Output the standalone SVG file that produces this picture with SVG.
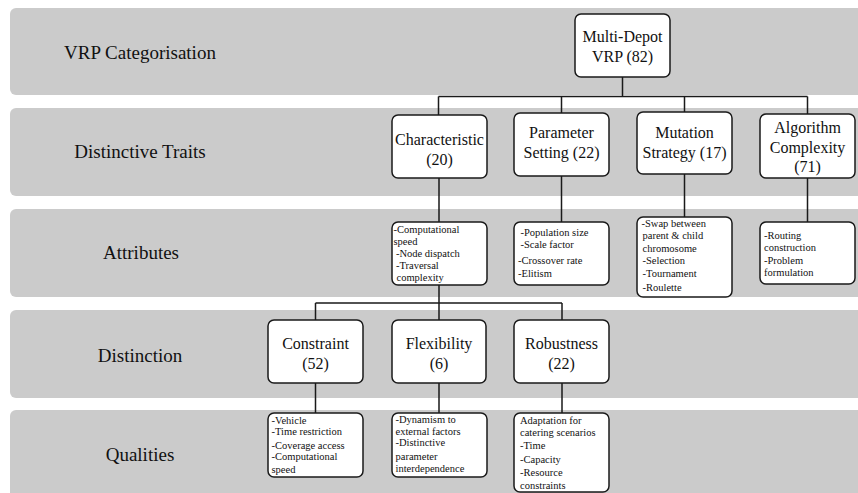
<svg xmlns="http://www.w3.org/2000/svg" width="858" height="493" viewBox="0 0 858 493">
<style>
.band{fill:#cbcbcb}
.lbl{font-family:"Liberation Serif","Times New Roman",serif;font-size:19px;fill:#111;text-anchor:middle}
.box{fill:#fff;stroke:#1a1a1a;stroke-width:1.5}
.t{font-family:"Liberation Serif","Times New Roman",serif;font-size:16px;fill:#111;text-anchor:middle}
.s{font-family:"Liberation Serif","Times New Roman",serif;font-size:10.5px;fill:#111}
.c{fill:none;stroke:#1a1a1a;stroke-width:1.5}
</style>
<rect width="858" height="493" fill="#fff"/>
<g id="bands">
<rect class="band" x="10" y="8" width="870" height="87" rx="6"/>
<rect class="band" x="10" y="108" width="870" height="88" rx="6"/>
<rect class="band" x="10" y="209" width="870" height="88" rx="6"/>
<rect class="band" x="10" y="310" width="870" height="88" rx="6"/>
<rect class="band" x="10" y="410" width="870" height="95" rx="6"/>
<text class="lbl" x="140" y="59" font-size="18">VRP Categorisation</text>
<text class="lbl" x="140" y="158">Distinctive Traits</text>
<text class="lbl" x="141" y="259">Attributes</text>
<text class="lbl" x="140" y="362">Distinction</text>
<text class="lbl" x="140" y="461">Qualities</text>
</g>
<g id="connectors">
<path class="c" d="M622.5 77V96.5M438.5 96.5H807.5M438.5 96.5V115M561.5 96.5V113M684.5 96.5V112M807.5 96.5V114"/>
<path class="c" d="M439 178V222M561.5 176V222M684.5 174V217M807.5 178V222"/>
<path class="c" d="M439 285V320M315.5 303H562M315.5 303V320M562 303V320"/>
<path class="c" d="M315.5 383V413M439 383V413M562 383V413"/>
</g>
<g id="root">
<rect class="box" x="575" y="14" width="95" height="63" rx="6"/>
<text class="t" x="622.5" y="42">Multi-Depot</text>
<text class="t" x="622.5" y="62">VRP (82)</text>
</g>
<g id="characteristic">
<rect class="box" x="392" y="115" width="95" height="63" rx="6"/>
<text class="t" x="439.5" y="145">Characteristic</text>
<text class="t" x="439.5" y="165">(20)</text>
</g>
<g id="parameter">
<rect class="box" x="514" y="113" width="95" height="63" rx="6"/>
<text class="t" x="561.5" y="138">Parameter</text>
<text class="t" x="561.5" y="158">Setting (22)</text>
</g>
<g id="mutation">
<rect class="box" x="637" y="112" width="95" height="62" rx="6"/>
<text class="t" x="684.5" y="138">Mutation</text>
<text class="t" x="684.5" y="158">Strategy (17)</text>
</g>
<g id="algorithm">
<rect class="box" x="760" y="114" width="95" height="64" rx="6"/>
<text class="t" x="807.5" y="133">Algorithm</text>
<text class="t" x="807.5" y="153">Complexity</text>
<text class="t" x="807.5" y="172">(71)</text>
</g>
<g id="char-attr">
<rect class="box" x="392" y="222" width="95" height="63" rx="6"/>
<text class="s" x="393.5" y="232.5">-Computational</text>
<text class="s" x="393.5" y="244.5">speed</text>
<text class="s" x="396" y="256.5">-Node dispatch</text>
<text class="s" x="396" y="268.5">-Traversal</text>
<text class="s" x="396.5" y="281">complexity</text>
</g>
<g id="param-attr">
<rect class="box" x="514" y="222" width="95" height="63" rx="6"/>
<text class="s" x="520.5" y="235.5">-Population size</text>
<text class="s" x="520.5" y="248">-Scale factor</text>
<text class="s" x="518" y="264">-Crossover rate</text>
<text class="s" x="518" y="276.5">-Elitism</text>
</g>
<g id="mutation-attr">
<rect class="box" x="637" y="217" width="95" height="80" rx="6"/>
<text class="s" x="641.5" y="226.5">-Swap between</text>
<text class="s" x="642.5" y="239">parent &amp; child</text>
<text class="s" x="642.5" y="252">chromosome</text>
<text class="s" x="642.5" y="264">-Selection</text>
<text class="s" x="642.5" y="276.5">-Tournament</text>
<text class="s" x="642.5" y="290.5">-Roulette</text>
</g>
<g id="algorithm-attr">
<rect class="box" x="760" y="222" width="95" height="62" rx="6"/>
<text class="s" x="764" y="238.5">-Routing</text>
<text class="s" x="764" y="251">construction</text>
<text class="s" x="764" y="263.5">-Problem</text>
<text class="s" x="764" y="276">formulation</text>
</g>
<g id="constraint">
<rect class="box" x="268" y="320" width="95" height="63" rx="6"/>
<text class="t" x="315.5" y="348.5">Constraint</text>
<text class="t" x="315.5" y="368.5">(52)</text>
</g>
<g id="flexibility">
<rect class="box" x="392" y="320" width="94" height="63" rx="6"/>
<text class="t" x="439" y="348.5">Flexibility</text>
<text class="t" x="439" y="368.5">(6)</text>
</g>
<g id="robustness">
<rect class="box" x="514" y="320" width="95" height="63" rx="6"/>
<text class="t" x="561.5" y="348.5">Robustness</text>
<text class="t" x="561.5" y="368.5">(22)</text>
</g>
<g id="constraint-qual">
<rect class="box" x="268" y="413" width="95" height="64" rx="6"/>
<text class="s" x="271.5" y="423.5">-Vehicle</text>
<text class="s" x="271.5" y="435">-Time restriction</text>
<text class="s" x="271.5" y="449">-Coverage access</text>
<text class="s" x="271.5" y="460">-Computational</text>
<text class="s" x="271.5" y="472.5">speed</text>
</g>
<g id="flexibility-qual">
<rect class="box" x="392" y="413" width="95" height="64" rx="6"/>
<text class="s" x="395.5" y="422.5">-Dynamism to</text>
<text class="s" x="395.5" y="435">external factors</text>
<text class="s" x="395.5" y="446">-Distinctive</text>
<text class="s" x="395.5" y="459.5">parameter</text>
<text class="s" x="395.5" y="471.5">interdependence</text>
</g>
<g id="robustness-qual">
<rect class="box" x="514" y="413" width="95" height="79" rx="6"/>
<text class="s" x="520" y="423.5">Adaptation for</text>
<text class="s" x="520" y="436">catering scenarios</text>
<text class="s" x="520" y="449">-Time</text>
<text class="s" x="520" y="462.5">-Capacity</text>
<text class="s" x="520" y="475.5">-Resource</text>
<text class="s" x="520" y="489">constraints</text>
</g>
</svg>
